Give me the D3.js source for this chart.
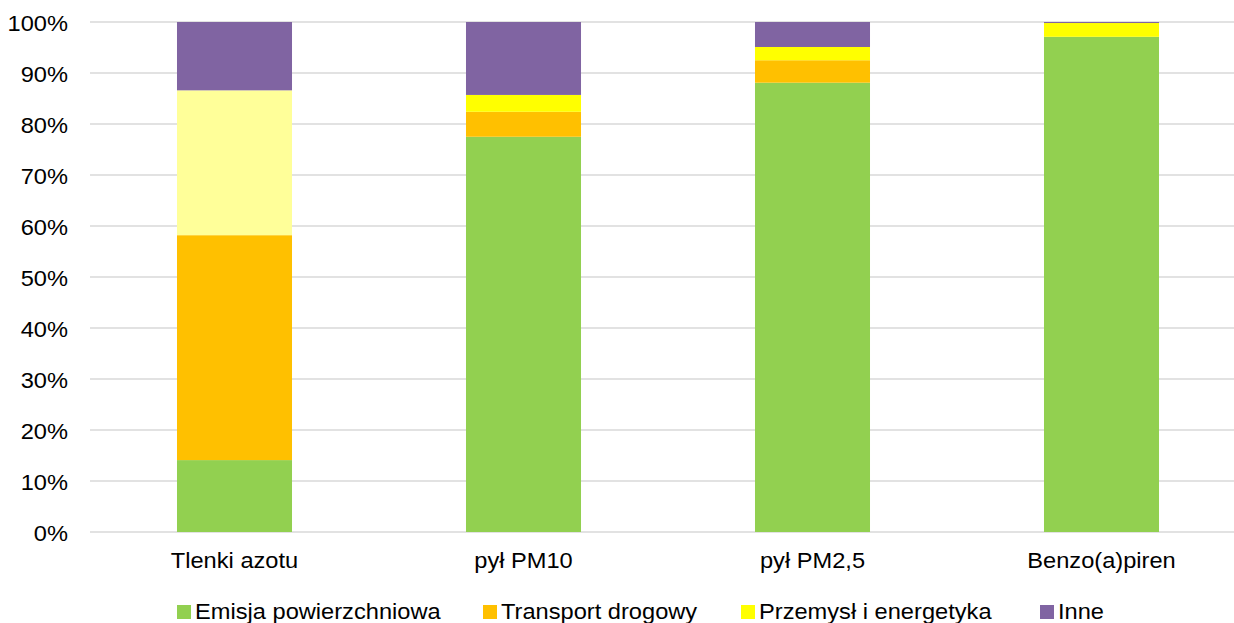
<!DOCTYPE html>
<html>
<head>
<meta charset="utf-8">
<script src="https://cdn.jsdelivr.net/npm/d3@7"></script>
<style>
  html, body { margin: 0; padding: 0; background: #fff; }
  svg { display: block; font-family: "Liberation Sans", Arial, sans-serif; }
</style>
</head>
<body>
<svg id="chart" width="1234" height="623"></svg>
<script>
// ---- data ----
const categories = ["Tlenki azotu", "pył PM10", "pył PM2,5", "Benzo(a)piren"];
const seriesNames = ["Emisja powierzchniowa", "Transport drogowy", "Przemysł i energetyka", "Inne"];
const emisja    = [14.1, 77.5, 88.1, 97.1];
const transport = [44.1,  4.9,  4.4,  0.0];
const przemysl  = [28.4,  3.3,  2.6,  2.7];
const inne      = [13.4, 14.3,  4.9,  0.2];
const yTicks = [0, 10, 20, 30, 40, 50, 60, 70, 80, 90, 100];
const seriesColors = ["#92D050", "#FFC000", "#FFFF00", "#8064A2"];
// point-level colour override (first column's "Przemysł i energetyka" is pale yellow)
const pointColorOverride = { "2-0": "#FFFF99" };

const seriesValues = [emisja, transport, przemysl, inne];

const svg = d3.select("#chart");
const W = 1234, H = 623;
const plot = { left: 90, right: 1246, top: 22, bottom: 532 };
const FS = 22, SX = 1.075;

const x = d3.scaleBand()
  .domain(categories)
  .range([plot.left, plot.right])
  .paddingInner(0.602)
  .paddingOuter(0.301);

const y = d3.scaleLinear().domain([0, 100]).range([plot.bottom, plot.top]);

// gridlines
svg.append("g")
  .selectAll("line")
  .data(yTicks)
  .join("line")
  .attr("x1", plot.left)
  .attr("x2", W)
  .attr("y1", d => y(d))
  .attr("y2", d => y(d))
  .attr("stroke", "#D9D9D9")
  .attr("stroke-width", 1.5);

// y axis labels
const yAxis = d3.axisLeft(y).tickValues(yTicks).tickFormat(d => d + "%").tickSize(0).tickPadding(0);
const yg = svg.append("g").attr("transform", `translate(${68},0)`).call(yAxis);
yg.select(".domain").remove();
yg.selectAll("text")
  .attr("x", 0)
  .attr("dy", "0.38em")
  .attr("transform", `scale(${SX},1)`)
  .attr("font-size", FS)
  .attr("fill", "#000")
  .attr("font-family", "Liberation Sans, Arial, sans-serif");

// stacked data
const rows = categories.map((c, i) => {
  const r = { category: c };
  seriesNames.forEach((s, j) => r[s] = seriesValues[j][i]);
  return r;
});
const stack = d3.stack().keys(seriesNames);
const stacked = stack(rows);

svg.append("g")
  .selectAll("g")
  .data(stacked)
  .join("g")
  .each(function(layer, si) {
    d3.select(this).selectAll("rect")
      .data(layer.map((d, ci) => ({ d, ci })))
      .join("rect")
      .attr("x", o => x(categories[o.ci]))
      .attr("width", x.bandwidth())
      .attr("y", o => y(o.d[1]))
      .attr("height", o => Math.max(0, y(o.d[0]) - y(o.d[1])))
      .attr("fill", o => pointColorOverride[`${si}-${o.ci}`] || seriesColors[si]);
  });

// x axis labels
const xAxis = d3.axisBottom(x).tickSize(0).tickPadding(0);
const xg = svg.append("g").attr("transform", `translate(0,${568})`).call(xAxis);
xg.select(".domain").remove();
xg.selectAll("text")
  .attr("y", 0)
  .attr("dy", 0)
  .attr("transform", `scale(${SX},1)`)
  .attr("font-size", FS)
  .attr("fill", "#000")
  .attr("font-family", "Liberation Sans, Arial, sans-serif");

// legend
const legendX = [177, 483, 741, 1040];
const lg = svg.append("g");
seriesNames.forEach((s, i) => {
  const g = lg.append("g").attr("transform", `translate(${legendX[i]},0)`);
  g.append("rect").attr("x", 0).attr("y", 605).attr("width", 14).attr("height", 14).attr("fill", seriesColors[i]);
  g.append("text")
    .attr("transform", `translate(18,618.5) scale(${SX},1)`)
    .attr("font-size", FS).attr("fill", "#000").text(s);
});
</script>
</body>
</html>
